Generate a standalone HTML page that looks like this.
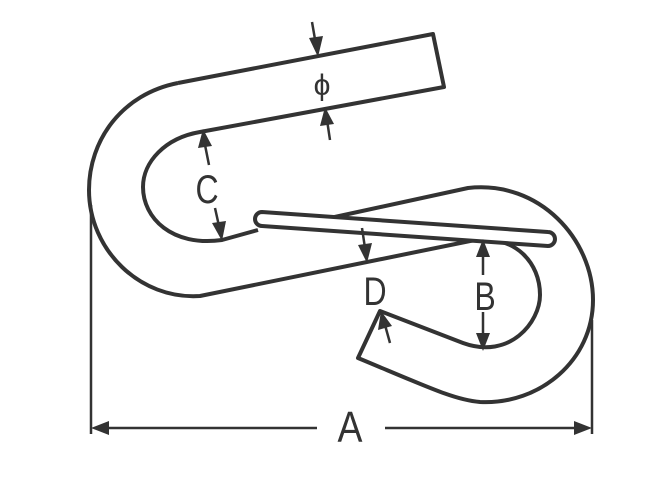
<!DOCTYPE html>
<html><head><meta charset="utf-8"><style>
html,body{margin:0;padding:0;background:#fff;}
svg{display:block}
text{font-family:"Liberation Sans","DejaVu Sans",sans-serif;fill:#333;}
</style></head><body>
<svg width="656" height="481" viewBox="0 0 656 481" xmlns="http://www.w3.org/2000/svg">
<g fill="none" stroke="#333" stroke-width="4" stroke-linejoin="round">
<path d="M178,83 L433,34 L444,87 L200,132 C165,138 143,162 143,187 C143,218 172,247 222,240 L258,230"/>
<path d="M178,83 C122,94 89,140 89,190 C89,250 140,300 200,296 L480,239"/>
<path d="M330,218 L468,188 C540,180 593,240 593,300 C593,360 540,405 480,402 C455,400 430,388 358,358 L380,311 L463,343 C510,360 540,322 540,295 C540,262 515,238 483,240"/>
<path d="M262,212 L548,232 A7,7 0 0 1 548,246 L262,226 A7,7 0 0 1 262,212 Z" fill="#fff"/>
</g>
<g stroke="#333" stroke-width="2.5" fill="none">
<line x1="91" y1="205" x2="91" y2="434"/>
<line x1="592" y1="320" x2="592" y2="434"/>
<line x1="100" y1="428" x2="317" y2="428"/>
<line x1="385" y1="428" x2="582" y2="428"/>
<line x1="312" y1="22" x2="316" y2="45"/>
<line x1="330" y1="140" x2="327" y2="120"/>
<line x1="209" y1="165" x2="205" y2="145"/>
<line x1="215" y1="208" x2="219" y2="226"/>
<line x1="362" y1="228" x2="365" y2="248"/>
<line x1="390" y1="343" x2="385" y2="325"/>
<line x1="483" y1="275" x2="483" y2="255"/>
<line x1="483" y1="312" x2="483" y2="335"/>
</g>
<g fill="#333">
<polygon points="91,428 109,421 109,435"/>
<polygon points="592,428 574,421 574,435"/>
<polygon points="318,57 309,38 323,36"/>
<polygon points="325,107 320,126 334,124"/>
<polygon points="203,129 198,148 212,146"/>
<polygon points="222,241 212,223 226,221"/>
<polygon points="367,263 358,245 372,243"/>
<polygon points="381,311 378,330 392,326"/>
<polygon points="483,239 476,257 490,257"/>
<polygon points="483,351 476,333 490,333"/>
</g>
<text x="322" y="95" font-size="30" text-anchor="middle">ϕ</text>
<text transform="translate(207,203) scale(0.8,1)" font-size="40" text-anchor="middle">C</text>
<text transform="translate(375,305) scale(0.8,1)" font-size="40" text-anchor="middle">D</text>
<text transform="translate(485,310) scale(0.8,1)" font-size="40" text-anchor="middle">B</text>
<text transform="translate(350,442) scale(0.85,1)" font-size="44" text-anchor="middle">A</text>
</svg>
</body></html>
